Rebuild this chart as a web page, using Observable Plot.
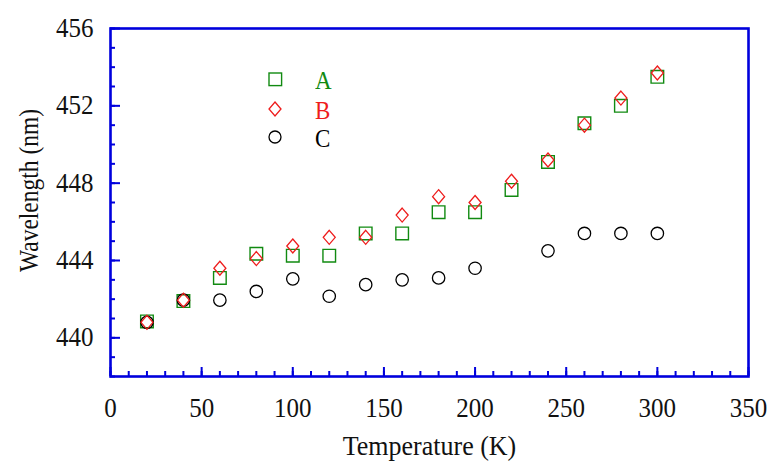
<!DOCTYPE html>
<html>
<head>
<meta charset="utf-8">
<script src="https://cdn.jsdelivr.net/npm/d3@7"></script>
<script src="https://cdn.jsdelivr.net/npm/@observablehq/plot@0.6"></script>
<style>
  html, body { margin: 0; padding: 0; background: #fff; }
  #wrap { position: relative; width: 770px; height: 461px; font-family: "Liberation Serif", "Times New Roman", serif; }
  #wrap svg text { font-family: "Liberation Serif", "Times New Roman", serif !important; }
  #legend { position: absolute; left: 0; top: 0; }
  .lrow { position: absolute; display: flex; align-items: center; font-size: 23px; line-height: 1; }
</style>
</head>
<body>
<div id="wrap"></div>
<script>
// ---- data ----
const temperatures = [20, 40, 60, 80, 100, 120, 140, 160, 180, 200, 220, 240, 260, 280, 300];
const seriesA = [440.85, 441.9, 443.1, 444.35, 444.25, 444.25, 445.4, 445.4, 446.5, 446.5, 447.65, 449.1, 451.1, 452.0, 453.5];
const seriesB = [440.8, 441.95, 443.6, 444.1, 444.75, 445.2, 445.2, 446.35, 447.3, 447.0, 448.1, 449.2, 451.0, 452.4, 453.7];
const seriesC = [440.8, 441.95, 441.95, 442.4, 443.05, 442.15, 442.75, 443.0, 443.1, 443.6, null, 444.5, 445.4, 445.4, 445.4];
const seriesNames = ["A", "B", "C"];
const seriesColors = ["#118a11", "#ee1c1c", "#000000"];
const xMajorTicks = [0, 50, 100, 150, 200, 250, 300, 350];
const xMinorTicks = d3.range(0, 351, 10);
const yMajorTicks = [440, 444, 448, 452, 456];
const yMinorTicks = d3.range(438, 457, 1);

const rows = [];
[seriesA, seriesB, seriesC].forEach((vals, s) => {
  vals.forEach((v, i) => { if (v != null) rows.push({series: seriesNames[s], t: temperatures[i], w: v}); });
});

// ---- symbols ----
const squareSym = {draw(ctx) { ctx.rect(-6.3, -6.3, 12.6, 12.6); }};
const diamondSym = {draw(ctx) { ctx.moveTo(0, -7); ctx.lineTo(6, 0); ctx.lineTo(0, 7); ctx.lineTo(-6, 0); ctx.closePath(); }};
const circleSym = {draw(ctx) { ctx.moveTo(6.2, 0); ctx.arc(0, 0, 6.2, 0, 2 * Math.PI); }};

const blue = "#0000dd";
const font = "Liberation Serif";

const chart = Plot.plot({
  width: 770,
  height: 461,
  marginLeft: 110,
  marginRight: 22,
  marginTop: 28,
  marginBottom: 85,
  style: {fontFamily: font, background: "white"},
  x: {domain: [0, 350]},
  y: {domain: [438, 456]},
  marks: [
    // x axis ticks (inward)
    Plot.axisX({ticks: xMinorTicks, tickSize: -5, stroke: blue, strokeWidth: 2, tickFormat: () => "", label: null}),
    Plot.axisX({ticks: xMajorTicks, tickSize: -9, stroke: blue, strokeWidth: 2, tickFormat: () => "", label: null}),
    Plot.axisX({ticks: xMajorTicks, tickSize: 0, tickPadding: 21, fontSize: 25, fontFamily: font, fill: "#111",
      label: "Temperature (K)", labelAnchor: "center", labelArrow: "none", labelOffset: 78}),
    // y axis ticks (inward)
    Plot.axisY({ticks: yMinorTicks, tickSize: -5, stroke: blue, strokeWidth: 2, tickFormat: () => "", label: null}),
    Plot.axisY({ticks: yMajorTicks, tickSize: -10, stroke: blue, strokeWidth: 2, tickFormat: () => "", label: null}),
    Plot.axisY({ticks: yMajorTicks, tickSize: 0, tickPadding: 17, fontSize: 25, fontFamily: font, fill: "#111",
      label: "Wavelength (nm)", labelAnchor: "center", labelArrow: "none", labelOffset: 92}),
    Plot.frame({stroke: blue, strokeWidth: 2.6}),
    Plot.dot(rows.filter(d => d.series === "A"), {x: "t", y: "w", symbol: () => squareSym, r: 6, stroke: seriesColors[0], strokeWidth: 1.4}),
    Plot.dot(rows.filter(d => d.series === "C"), {x: "t", y: "w", symbol: () => circleSym, r: 6, stroke: seriesColors[2], strokeWidth: 1.3}),
    Plot.dot(rows.filter(d => d.series === "B"), {x: "t", y: "w", symbol: () => diamondSym, r: 6, stroke: seriesColors[1], strokeWidth: 1.3})
  ]
});

const sel = d3.select(chart);
// slight vertical stretch of the serif text, as in the reference
sel.selectAll("[aria-label='x-axis tick label'] text, [aria-label='y-axis tick label'] text").each(function() {
  const t = this.getAttribute("transform");
  if (t) this.setAttribute("transform", t + " scale(1,1.08)");
});
sel.selectAll("[aria-label='x-axis label'] text").each(function() {
  this.setAttribute("font-size", 26);
  this.setAttribute("fill", "#111");
  const t = this.getAttribute("transform");
  if (t) this.setAttribute("transform", t + " scale(1,1.08)");
});
sel.selectAll("[aria-label='y-axis label'] text").each(function() {
  this.setAttribute("font-size", 23.5);
  this.setAttribute("fill", "#111");
  const t = this.getAttribute("transform");
  if (t) this.setAttribute("transform", "translate(0,-12) " + t + " scale(1,1.18)");
});

const wrap = document.getElementById("wrap");
wrap.appendChild(chart);

// ---- legend (HTML overlay) ----
const legendSymbols = [
  `<rect x="1" y="1" width="12.6" height="12.6" fill="none" stroke="${seriesColors[0]}" stroke-width="1.4"/>`,
  `<path d="M7,0 L13,7 L7,14 L1,7 Z" fill="none" stroke="${seriesColors[1]}" stroke-width="1.3"/>`,
  `<circle cx="7" cy="7" r="6" fill="none" stroke="${seriesColors[2]}" stroke-width="1.3"/>`
];
const legendTops = [68, 98, 126];
const legend = document.createElement("div");
legend.id = "legend";
seriesNames.forEach((name, i) => {
  const row = document.createElement("div");
  row.className = "lrow";
  row.style.left = "268px";
  row.style.top = legendTops[i] + "px";
  row.innerHTML = `<svg width="15" height="15" style="overflow:visible">${legendSymbols[i]}</svg>` +
    `<span style="color:${seriesColors[i]}; margin-left:32px; position:relative; top:1px; display:inline-block; transform:scaleY(1.08)">${name}</span>`;
  legend.appendChild(row);
});
wrap.appendChild(legend);
</script>
</body>
</html>
